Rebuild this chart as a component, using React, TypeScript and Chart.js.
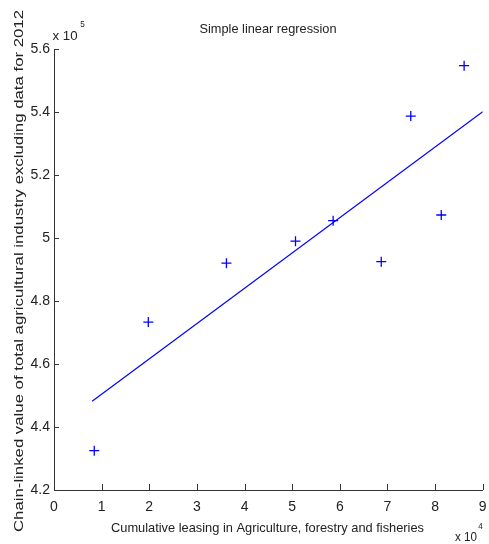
import React, { useEffect, useRef } from "react";
import { Chart, registerables } from "chart.js";
Chart.register(...registerables);

// Data
const leasingX = [8450, 19800, 36200, 50700, 58600, 68700, 74900, 81300, 86100];
const valueY = [432500, 473300, 492000, 499000, 505500, 492500, 538700, 507300, 554700];
const fitX = [8000, 90000];
const fitY = [448200, 540100];
const xTickValues = [0, 10000, 20000, 30000, 40000, 50000, 60000, 70000, 80000, 90000];
const yTickValues = [420000, 440000, 460000, 480000, 500000, 520000, 540000, 560000];
const titleText = "Simple linear regression";
const xTitleText = "Cumulative leasing in Agriculture, forestry and fisheries";
const yTitleText = "Chain-linked value of total agricultural industry excluding data for 2012";

const TEXT_COLOR = "#222";
const AXIS_COLOR = "#333";
const BLUE = "#0000ff";
const FONT = "'Liberation Sans', Arial, sans-serif";

function fitText(
  ctx: CanvasRenderingContext2D,
  text: string,
  cx: number,
  cy: number,
  width: number,
  size: number,
  rot = 0
) {
  ctx.save();
  ctx.translate(cx, cy);
  ctx.rotate(rot);
  ctx.font = `${size}px ${FONT}`;
  const w = ctx.measureText(text).width;
  ctx.scale(width / w, 1);
  ctx.fillStyle = TEXT_COLOR;
  ctx.textAlign = "center";
  ctx.textBaseline = "middle";
  ctx.fillText(text, 0, 0);
  ctx.restore();
}

const decorPlugin = {
  id: "decor",
  afterDraw(chart: any) {
    const ctx: CanvasRenderingContext2D = chart.ctx;
    const xs = chart.scales.x;
    const ys = chart.scales.y;
    const area = chart.chartArea;
    // inward ticks
    ctx.save();
    ctx.strokeStyle = AXIS_COLOR;
    ctx.lineWidth = 1;
    ctx.beginPath();
    xTickValues.forEach((v) => {
      const px = Math.round(xs.getPixelForValue(v)) + 0.5;
      ctx.moveTo(px, area.bottom);
      ctx.lineTo(px, area.bottom - 6);
    });
    yTickValues.forEach((v) => {
      const py = Math.round(ys.getPixelForValue(v)) + 0.5;
      ctx.moveTo(area.left, py);
      ctx.lineTo(area.left + 5, py);
    });
    ctx.stroke();
    ctx.restore();

    fitText(ctx, titleText, 268, 29.5, 137, 13);
    fitText(ctx, xTitleText, 267.5, 528, 313, 13);
    fitText(ctx, yTitleText, 19, 271, 522, 13, -Math.PI / 2);
    fitText(ctx, "x 10", 65, 36.5, 25, 13);
    fitText(ctx, "5", 82.5, 25, 4.5, 9);
    fitText(ctx, "x 10", 466, 537, 22, 13);
    fitText(ctx, "4", 480.5, 527, 4.5, 9);
  },
};

export default function App() {
  const ref = useRef<HTMLCanvasElement | null>(null);
  useEffect(() => {
    if (!ref.current) return;
    const chart = new Chart(ref.current, {
      type: "scatter",
      data: {
        datasets: [
          {
            type: "scatter",
            data: leasingX.map((x, i) => ({ x, y: valueY[i] })),
            pointStyle: "cross",
            pointRadius: 5,
            borderColor: BLUE,
            backgroundColor: BLUE,
            borderWidth: 1.3,
          } as any,
          {
            type: "line",
            data: fitX.map((x, i) => ({ x, y: fitY[i] })),
            borderColor: BLUE,
            borderWidth: 1.2,
            pointRadius: 0,
            fill: false,
          } as any,
        ],
      },
      options: {
        animation: false,
        responsive: false,
        devicePixelRatio: 1,
        layout: { padding: { left: 0, right: 6, top: 49, bottom: 0 } },
        plugins: { legend: { display: false }, tooltip: { enabled: false }, title: { display: false } },
        scales: {
          x: {
            type: "linear",
            min: 0,
            max: 90000,
            afterBuildTicks: (s: any) => {
              s.ticks = xTickValues.map((value) => ({ value }));
            },
            afterFit: (s: any) => {
              s.height = 54;
              s.paddingLeft = 0;
              s.paddingRight = 0;
            },
            ticks: {
              callback: (v: any) => String(Number(v) / 10000),
              font: { family: FONT, size: 14 },
              color: TEXT_COLOR,
              padding: 9,
              maxRotation: 0,
              autoSkip: false,
            },
            grid: { drawOnChartArea: false, drawTicks: false, color: AXIS_COLOR },
            border: { display: true, color: AXIS_COLOR, width: 1 },
          },
          y: {
            type: "linear",
            min: 420000,
            max: 560000,
            afterBuildTicks: (s: any) => {
              s.ticks = yTickValues.map((value) => ({ value }));
            },
            afterFit: (s: any) => {
              s.width = 54;
              s.paddingTop = 0;
              s.paddingBottom = 0;
            },
            ticks: {
              callback: (v: any) => String(Math.round(Number(v) / 10000) / 10),
              font: { family: FONT, size: 14 },
              color: TEXT_COLOR,
              padding: 4,
              autoSkip: false,
            },
            grid: { drawOnChartArea: false, drawTicks: false, color: AXIS_COLOR },
            border: { display: true, color: AXIS_COLOR, width: 1 },
          },
        },
      } as any,
      plugins: [decorPlugin],
    });
    return () => chart.destroy();
  }, []);
  return (
    <div style={{ position: "absolute", left: 0, top: 0, width: 489, height: 544, background: "#fff" }}>
      <canvas ref={ref} width={489} height={544} />
    </div>
  );
}
